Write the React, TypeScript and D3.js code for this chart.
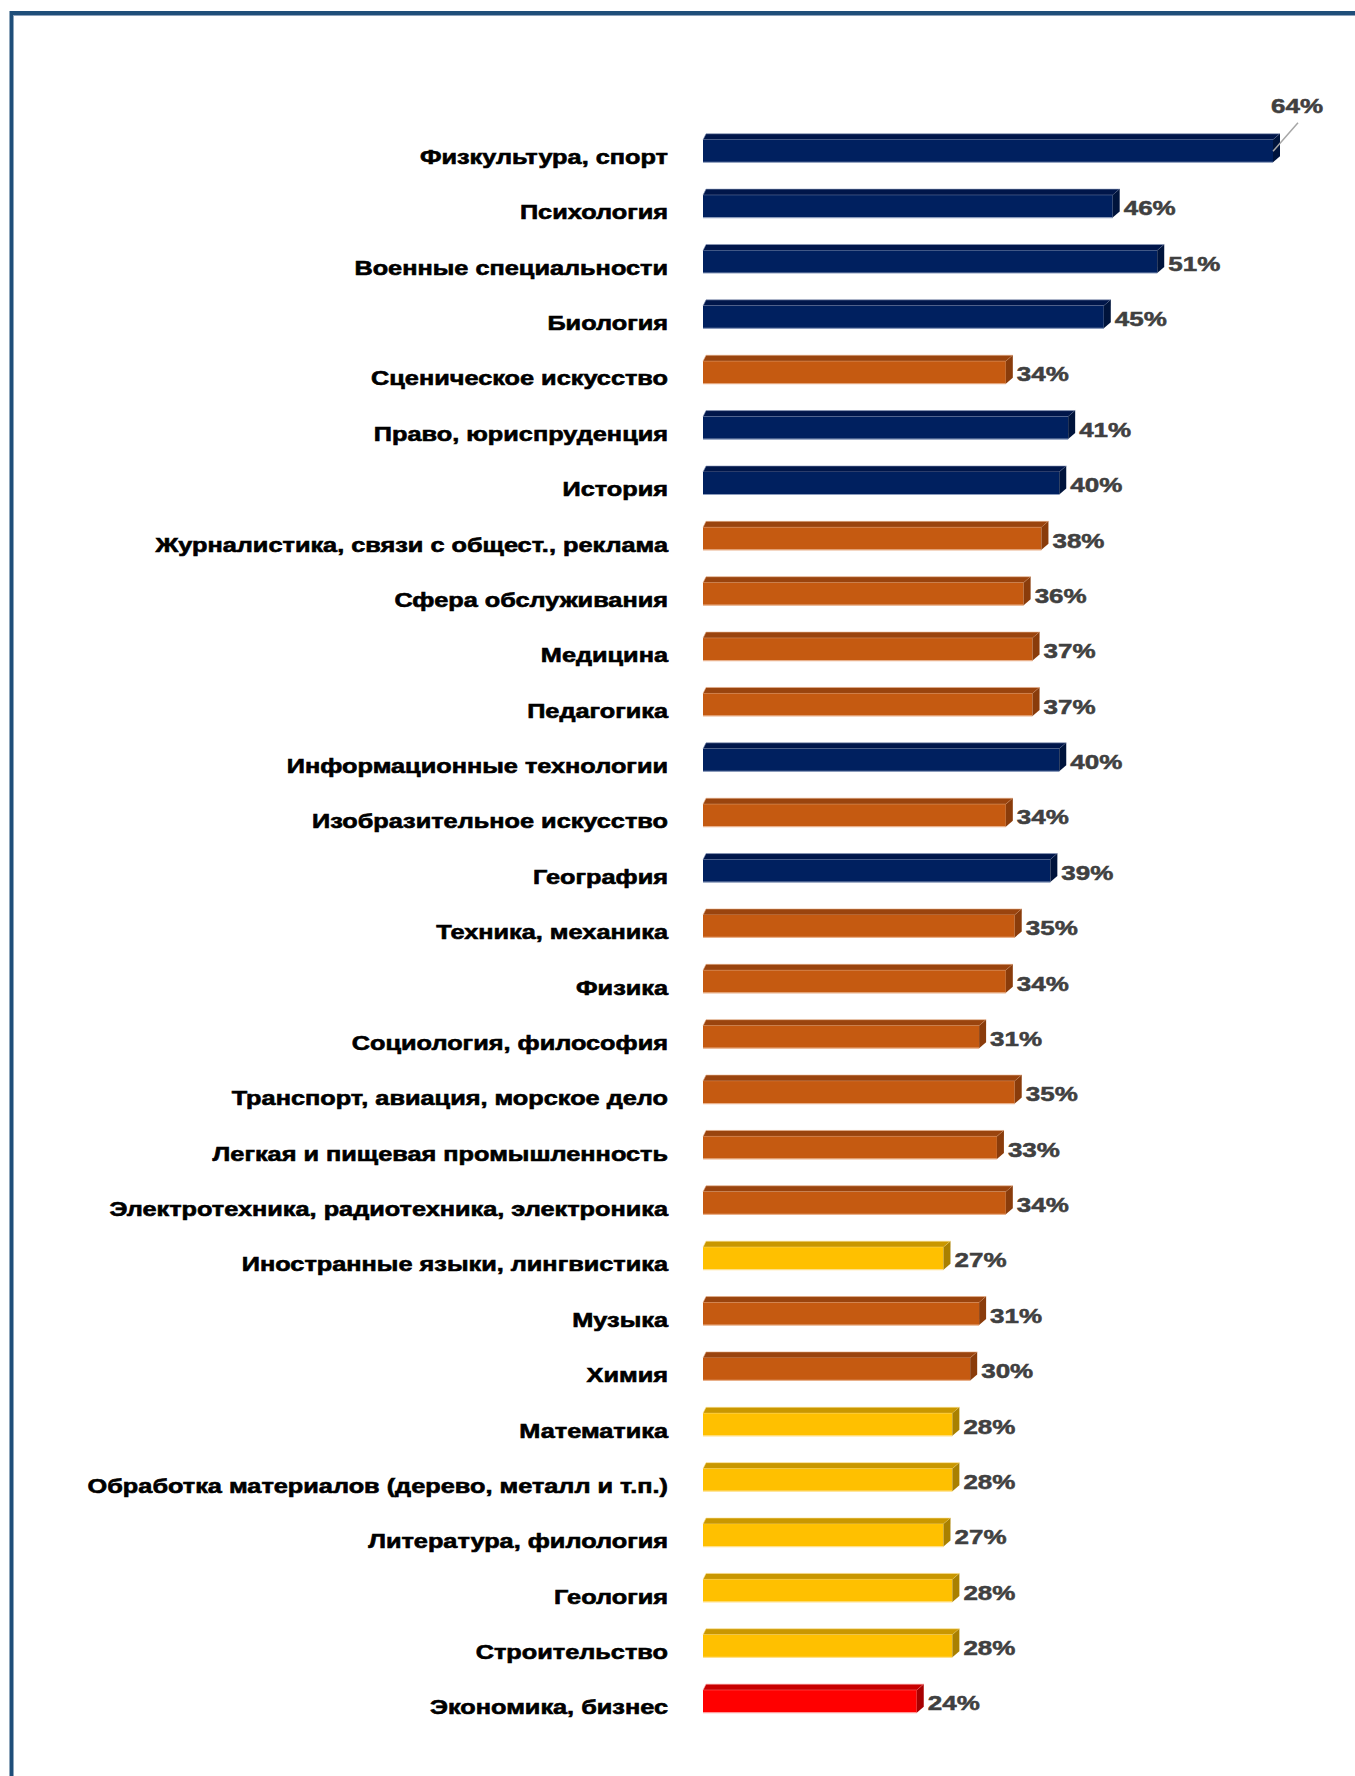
import React from "react";
import * as d3 from "d3";

const categories: string[] = [
  "Физкультура, спорт",
  "Психология",
  "Военные специальности",
  "Биология",
  "Сценическое искусство",
  "Право, юриспруденция",
  "История",
  "Журналистика, связи с общест., реклама",
  "Сфера обслуживания",
  "Медицина",
  "Педагогика",
  "Информационные технологии",
  "Изобразительное искусство",
  "География",
  "Техника, механика",
  "Физика",
  "Социология, философия",
  "Транспорт, авиация, морское дело",
  "Легкая и пищевая промышленность",
  "Электротехника, радиотехника, электроника",
  "Иностранные языки, лингвистика",
  "Музыка",
  "Химия",
  "Математика",
  "Обработка материалов (дерево, металл и т.п.)",
  "Литература, филология",
  "Геология",
  "Строительство",
  "Экономика, бизнес",
];

const values: number[] = [
  64, 46, 51, 45, 34, 41, 40, 38, 36, 37, 37, 40, 34, 39, 35, 34, 31, 35, 33, 34,
  27, 31, 30, 28, 28, 27, 28, 28, 24,
];

const groups: string[] = [
  "navy", "navy", "navy", "navy", "orange", "navy", "navy", "orange", "orange",
  "orange", "orange", "navy", "orange", "navy", "orange", "orange", "orange",
  "orange", "orange", "orange", "yellow", "orange", "orange", "yellow", "yellow",
  "yellow", "yellow", "yellow", "red",
];

const palette: Record<string, { front: string; top: string; side: string; edge: string }> = {
  navy: { front: "#00205F", top: "#00164A", side: "#00143C", edge: "#8B9BBB" },
  orange: { front: "#C55A11", top: "#9A440E", side: "#8A3C0B", edge: "#E9B08A" },
  yellow: { front: "#FFC000", top: "#C99700", side: "#A98000", edge: "#FFE08A" },
  red: { front: "#FF0000", top: "#C80000", side: "#A80000", edge: "#FF9A9A" },
};

const W = 1355;
const H = 1776;
const BAR_H = 22.5;
const DY = 6;
const DX_R = 7;
const DX_L = 3;
const SX = 1.265;
const SXV = 1.3;

export default function App() {
  const x = d3.scaleLinear().domain([0, 64]).range([703, 1273]);
  const y = d3.scalePoint<string>().domain(categories).range([151, 1701.4]);
  const x0 = x(0);

  return (
    <svg
      width={W}
      height={H}
      style={{ position: "absolute", left: 0, top: 0, display: "block", background: "#fff" }}
    >
      <rect x={11.5} y={13} width={2000} height={2000} fill="#fff" stroke="#1F4E79" strokeWidth={4} />
      <line x1={13.5} y1={15.5} x2={W} y2={15.5} stroke="#8FA3BC" strokeWidth={1} />

      {categories.map((c, i) => {
        const v = values[i];
        const col = palette[groups[i]];
        const yc = y(c)!;
        const yt = yc - BAR_H / 2;
        const yb = yc + BAR_H / 2;
        const x1 = x(v);
        const topPts = `${x0},${yt} ${x0 + DX_L},${yt - DY} ${x1 + DX_R},${yt - DY} ${x1},${yt}`;
        const sidePts = `${x1},${yt} ${x1 + DX_R},${yt - DY} ${x1 + DX_R},${yb - DY} ${x1},${yb}`;
        const isTop = i === 0;
        return (
          <g key={c}>
            <polygon points={topPts} fill={col.top} stroke={col.edge} strokeWidth={0.6} />
            <rect x={x0} y={yt} width={x1 - x0} height={BAR_H} fill={col.front} />
            <line x1={x0} y1={yb} x2={x1} y2={yb} stroke={col.edge} strokeWidth={1.2} />
            <polygon points={sidePts} fill={col.side} />
            <text
              transform={`translate(668, ${yc + 13}) scale(${SX},1)`}
              textAnchor="end"
              fontFamily="'Liberation Sans', Arial, sans-serif"
              fontWeight="bold"
              fontSize={20}
              fill="#000"
              stroke="#000"
              strokeWidth={0.6}
            >
              {c}
            </text>
            {isTop ? (
              <g>
                <line x1={x1 + 25} y1={yt - 17} x2={x1} y2={yb - 11} stroke="#A6A6A6" strokeWidth={1.5} />
                <text
                  transform={`translate(${x1 - 2}, ${yt - 27}) scale(${SXV},1)`}
                  fontFamily="'Liberation Sans', Arial, sans-serif"
                  fontWeight="bold"
                  fontSize={20}
                  fill="#404040"
                  stroke="#404040"
                  strokeWidth={0.5}
                >
                  {`${v}%`}
                </text>
              </g>
            ) : (
              <text
                transform={`translate(${x1 + DX_R + 4}, ${yc + 9}) scale(${SXV},1)`}
                fontFamily="'Liberation Sans', Arial, sans-serif"
                fontWeight="bold"
                fontSize={20}
                fill="#404040"
                stroke="#404040"
                strokeWidth={0.5}
              >
                {`${v}%`}
              </text>
            )}
          </g>
        );
      })}
    </svg>
  );
}
